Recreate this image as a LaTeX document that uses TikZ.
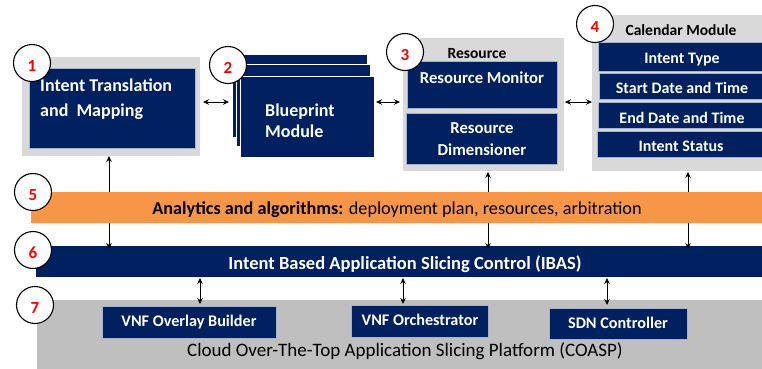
\documentclass[tikz,border=0pt]{standalone}
\usepackage{fontspec}
\setmainfont{Carlito}
\usetikzlibrary{arrows.meta,fit}
\definecolor{navy}{HTML}{002060}
\definecolor{panel}{HTML}{D9D9D9}
\definecolor{band}{HTML}{F79646}
\definecolor{platform}{HTML}{BFBFBF}
\definecolor{edge}{HTML}{A6B3CC}
\definecolor{numred}{HTML}{FF0000}
\tikzset{
  panelbox/.style={fit={#1}, inner sep=0pt, outer sep=0pt, fill=panel},
  navybox/.style={fit={#1}, inner sep=0pt, outer sep=0pt, fill=navy, draw=edge, line width=0.5pt},
  stackbox/.style={fit={#1}, inner sep=0pt, outer sep=0pt, fill=navy, draw=white, line width=0.8pt},
  barbox/.style 2 args={fit={#1}, inner sep=0pt, outer sep=0pt, fill=#2},
  lbl/.style={inner sep=0pt, anchor=base},
  wbig/.style={lbl, text=white, font=\bfseries\fontsize{18}{21}\selectfont},
  wmid/.style={lbl, text=white, font=\bfseries\fontsize{16}{19}\selectfont},
  wres/.style={lbl, text=white, font=\bfseries\fontsize{16.7}{19}\selectfont},
  wsmall/.style={lbl, text=white, font=\bfseries\fontsize{16.2}{19}\selectfont},
  bmid/.style={lbl, text=black, font=\bfseries\fontsize{15.5}{18}\selectfont},
  link/.style={{Stealth[length=6pt,width=5.5pt]}-{Stealth[length=6pt,width=5.5pt]}, line width=0.8pt, black},
  badge/.style={circle, draw=black, fill=white, line width=1.1pt, minimum size=37pt, inner sep=0pt},
  badgenum/.style={lbl, text=numred, font=\bfseries\fontsize{17}{20}\selectfont},
}
\begin{document}
\begin{tikzpicture}[x=1pt,y=-1pt]
\clip (0,0) rectangle (762,368);
\fill[white] (0,0) rectangle (762,368);

% x positions of the vertical links and y of the horizontal ones
\coordinate (vx1) at (109,0);
\coordinate (vx3) at (488,0);
\coordinate (vx4) at (688,0);
\coordinate (vxa) at (200,0);
\coordinate (vxb) at (403,0);
\coordinate (vxc) at (607,0);
\coordinate (hy)  at (0,102);

% Intent translation and mapping
\node[panelbox={(22,57) (200,156)}] (trans) {};
\node[navybox={(29,68) (195,148)}] (transin) {};
\node[wbig, anchor=base west] (transA) at (40,91) {Intent Translation};
\node[wbig, anchor=base west] (transB) at (40,116) {and\hspace{0.45em}Mapping};

% Blueprint module (stack of three sheets)
\node[stackbox={(232,54) (367,137)}] (bpback) {};
\node[stackbox={(236,64) (370,146)}] (bpmid) {};
\node[stackbox={(240,76) (374,157)}] (bpfront) {};
\node[wbig, anchor=base west] (bpA) at (265,116) {Blueprint};
\node[wbig, anchor=base west] (bpB) at (265,137) {Module};

% Resource block
\node[panelbox={(403,38) (564,171)}] (res) {};
\node[bmid] (resT) at (477,58) {Resource};
\node[navybox={(407,61) (557,108)}] (resmon) {};
\node[wres] (resmonT) at (482,83) {Resource Monitor};
\node[navybox={(406,113) (557,164)}] (resdim) {};
\node[wres] (resdimA) at (482,133) {Resource};
\node[wres] (resdimB) at (482,155) {Dimensioner};

% Calendar module
\node[panelbox={(592,15) (770,171)}] (cal) {};
\node[bmid] (calT) at (681,35) {Calendar Module};
\node[navybox={(598,42) (770,71)}] (cal1) {};
\node[wmid] (cal1T) at (682,63) {Intent Type};
\node[navybox={(599,73) (770,99)}] (cal2) {};
\node[wmid] (cal2T) at (682,93) {Start Date and Time};
\node[navybox={(598,102) (770,128)}] (cal3) {};
\node[wmid] (cal3T) at (682,123) {End Date and Time};
\node[navybox={(597,131) (770,157)}] (cal4) {};
\node[wmid] (cal4T) at (681,151) {Intent Status};

% IBAS control bar
\node[barbox={(36,246) (770,277)}{navy}] (ibas) {};
\node[lbl, text=white, font=\bfseries\fontsize{18.5}{21}\selectfont] (ibasT) at (405,269) {Intent Based Application Slicing Control (IBAS)};

% vertical links, running behind the analytics band
\draw[link] (trans.south -| vx1) -- ([yshift=-3pt]ibas.north -| vx1);
\draw[link] ([yshift=-1pt]res.south -| vx3) -- ([yshift=-3pt]ibas.north -| vx3);
\draw[link] ([yshift=-1pt]cal.south -| vx4) -- ([yshift=-3pt]ibas.north -| vx4);

% Analytics band
\node[barbox={(31,192) (770,223)}{band}] (ana) {};
\node[lbl, font=\fontsize{18.2}{21}\selectfont] (anaT) at (397,214) {\textbf{Analytics and algorithms:} deployment plan, resources, arbitration};

% COASP platform
\node[barbox={(37,300) (770,372)}{platform}] (coasp) {};
\node[navybox={(102,306) (276,338)}] (vob) {};
\node[wsmall] (vobT) at (189,326) {VNF Overlay Builder};
\node[navybox={(351,305) (488,337)}] (vno) {};
\node[wsmall] (vnoT) at (420,325) {VNF Orchestrator};
\node[navybox={(549,308) (687,339)}] (sdn) {};
\node[wsmall] (sdnT) at (618,328) {SDN Controller};
\node[lbl, font=\fontsize{19}{22}\selectfont] (coaspT) at (405,356) {Cloud Over-The-Top Application Slicing Platform (COASP)};

% links between the IBAS bar and the platform components
\draw[link] ([yshift=-1pt]ibas.south -| vxa) -- ([yshift=2pt]vob.north -| vxa);
\draw[link] ([yshift=-1pt]ibas.south -| vxb) -- ([yshift=1pt]vno.north -| vxb);
\draw[link] ([yshift=-1pt]ibas.south -| vxc) -- ([yshift=3pt]sdn.north -| vxc);

% horizontal links between the upper modules
\draw[link] ([xshift=3pt]trans.east |- hy) -- ([xshift=-3pt]bpback.west |- hy);
\draw[link] ([xshift=2pt]bpfront.east |- hy) -- ([xshift=-3pt]res.west |- hy);
\draw[link] ([xshift=1pt]res.east |- hy) -- (cal.west |- hy);

% numbered badges
\node[badge] (n1) at (32,63) {};
\node[badgenum] (n1T) at (32,71) {1};
\node[badge] (n2) at (228,65) {};
\node[badgenum] (n2T) at (228,73) {2};
\node[badge] (n3) at (405,52) {};
\node[badgenum] (n3T) at (405,60) {3};
\node[badge] (n4) at (595,24) {};
\node[badgenum] (n4T) at (595,32) {4};
\node[badge] (n5) at (33,192) {};
\node[badgenum] (n5T) at (33,200) {5};
\node[badge] (n6) at (33,250) {};
\node[badgenum] (n6T) at (33,258) {6};
\node[badge] (n7) at (35,305) {};
\node[badgenum] (n7T) at (35,313) {7};
\end{tikzpicture}
\end{document}
